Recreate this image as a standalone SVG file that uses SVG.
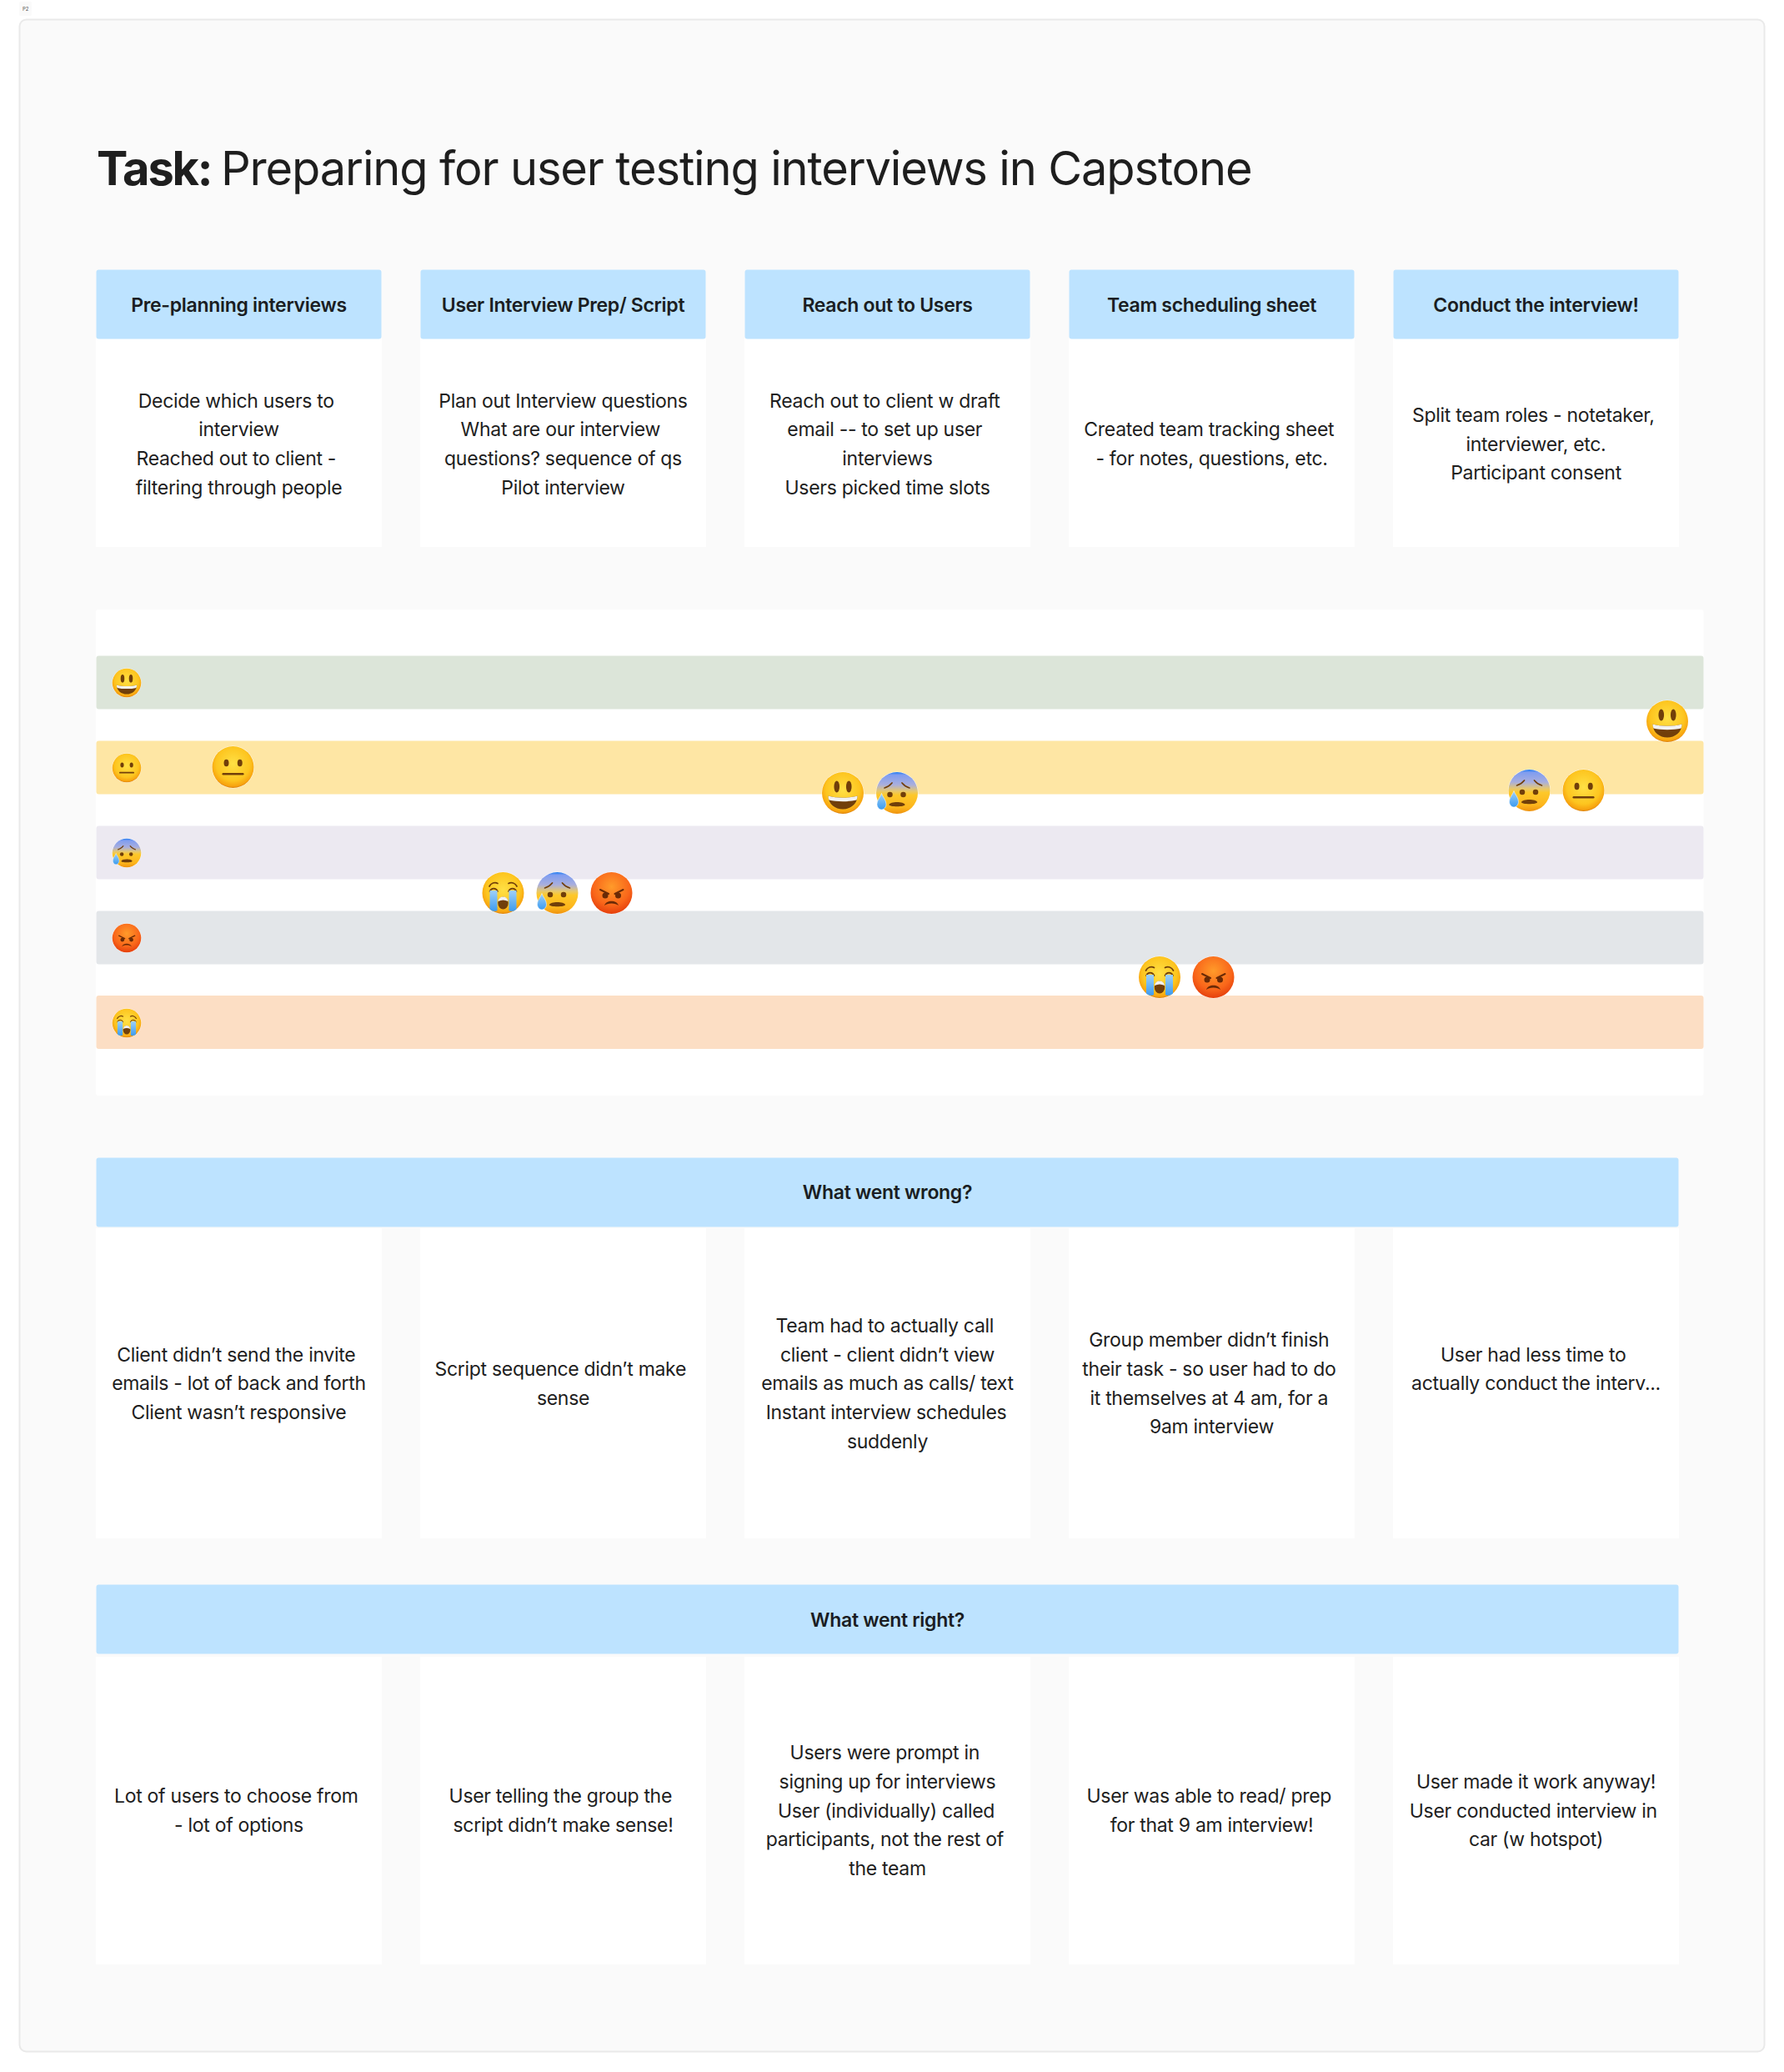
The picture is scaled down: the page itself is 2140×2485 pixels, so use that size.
<svg xmlns="http://www.w3.org/2000/svg" width="2140" height="2485" viewBox="0 0 2140 2485">
<style>
text{font-family:Inter,"Liberation Sans",sans-serif;fill:#1e1e1e}
.b{font-size:23px;letter-spacing:-.3px;text-anchor:middle}
.h{font-size:23px;letter-spacing:-.3px;font-weight:600;text-anchor:middle;fill:#1a1d22}
.hd{fill:#bde3ff}
.c{fill:#fff}
.d{fill:#713f0a}
.l{fill:none;stroke:#713f0a;stroke-width:3.4;stroke-linecap:round}
</style>
<defs>
<radialGradient id="y" cx=".5" cy=".42" r=".58"><stop offset="0" stop-color="#ffe045"/><stop offset=".7" stop-color="#fdc51f"/><stop offset=".93" stop-color="#f7a20f"/><stop offset="1" stop-color="#d9800e"/></radialGradient>
<radialGradient id="o" cx=".5" cy=".35" r=".68"><stop offset="0" stop-color="#ff9b2a"/><stop offset=".65" stop-color="#f9661a"/><stop offset="1" stop-color="#e23a0a"/></radialGradient>
<linearGradient id="f" x1="0" y1="0" x2="0" y2="1"><stop offset="0" stop-color="#1f7bf0"/><stop offset=".07" stop-color="#7f9df0"/><stop offset=".3" stop-color="#a8aede"/><stop offset=".46" stop-color="#e8c86a"/><stop offset=".55" stop-color="#fdc82a"/><stop offset=".85" stop-color="#fdb51c"/><stop offset="1" stop-color="#ee920f"/></linearGradient>
<linearGradient id="t" x1="0" y1="0" x2="0" y2="1"><stop offset="0" stop-color="#9fd0f8"/><stop offset="1" stop-color="#3c9bef"/></linearGradient>
<symbol id="smile" viewBox="-2 -2 104 104" overflow="visible">
<circle cx="50" cy="50" r="51" fill="#fff" opacity=".7"/><circle cx="50" cy="50" r="50" fill="url(#y)"/>
<ellipse class="d" cx="35.500" cy="35" rx="6.600" ry="14"/><ellipse class="d" cx="64.500" cy="35" rx="6.600" ry="14"/>
<path class="d" d="M15 57C35 63 65 63 85 57C85 77 68 89 50 89C32 89 15 77 15 57Z"/>
<path fill="#f2f2f2" d="M15 57C35 63 65 63 85 57C85 61 84.500 64 83 67C65 71.500 35 71.500 17 67C15.500 64 15 61 15 57Z"/>
</symbol>
<symbol id="neutral" viewBox="-2 -2 104 104" overflow="visible">
<circle cx="50" cy="50" r="51" fill="#fff" opacity=".7"/><circle cx="50" cy="50" r="50" fill="url(#y)"/>
<ellipse class="d" cx="34" cy="40" rx="6" ry="8.500"/><ellipse class="d" cx="66.500" cy="40" rx="6" ry="8.500"/>
<rect class="d" x="24" y="64" width="52" height="5" rx="2.500"/>
</symbol>
<symbol id="fear" viewBox="-2 -2 104 104" overflow="visible">
<circle cx="50" cy="50" r="51" fill="#fff" opacity=".7"/><circle cx="50" cy="50" r="50" fill="url(#f)"/>
<path class="l" d="M20 38C27 36 33 32 38 26M80 38C73 36 67 32 62 26"/>
<circle class="d" cx="33" cy="54" r="6.500"/><circle class="d" cx="65" cy="54" r="6.500"/>
<path class="d" d="M31 78C33 70 67 70 69 78C70 84 30 84 31 78Z"/>
<path fill="url(#t)" stroke="#fff" stroke-width="1" d="M13 51C16 60 24 67 24 77C24 84 19 90 13 90C7 90 2 84 2 77C2 67 10 60 13 51Z"/>
</symbol>
<symbol id="angry" viewBox="-2 -2 104 104" overflow="visible">
<circle cx="50" cy="50" r="51" fill="#fff" opacity=".7"/><circle cx="50" cy="50" r="50" fill="url(#o)"/>
<circle cx="35" cy="56" r="7" fill="#6a2a06"/><circle cx="66" cy="56" r="7" fill="#6a2a06"/>
<path d="M23 42L43 52M78 42L58 52" fill="none" stroke="#6a2a06" stroke-width="4" stroke-linecap="round"/>
<path d="M33 80C37 66 63 66 67 80C60 73 40 73 33 80Z" fill="#6a2a06"/>
</symbol>
<symbol id="cry" viewBox="-2 -2 104 104" overflow="visible">
<circle cx="50" cy="50" r="51" fill="#fff" opacity=".7"/><circle cx="50" cy="50" r="50" fill="url(#y)"/>
<path class="l" d="M17 34C21 26 30 23 37 27M83 34C79 26 70 23 63 27"/>
<path class="l" d="M18 46C22 37 33 37 37 46M63 46C67 37 78 37 82 46"/>
<path fill="url(#t)" d="M18 44H36V92C30 95 24 94 18 89ZM64 44H82V89C76 94 70 95 64 92Z"/>
<ellipse class="d" cx="50" cy="74" rx="12.500" ry="15"/>
<path fill="#f2f2f2" d="M38 70C39 55 61 55 62 70C54 66 46 66 38 70Z"/>
</symbol>
</defs>
<rect width="2140" height="2485" fill="#fff"/>
<g id="page-tag"><rect x="23" y="2" width="15" height="17" rx="2" fill="#fafafa"/><text x="27" y="13" style="font-size:6px;fill:#555">P2</text></g>
<g id="board"><rect x="23.500" y="23.500" width="2093" height="2437" rx="8" fill="#fafafa" stroke="#e9e9e9" stroke-width="2"/></g>
<g id="title"><text y="222" style="font-size:56px;letter-spacing:-1.15px"><tspan x="116" font-weight="700" style="letter-spacing:-2.2px">Task:</tspan> <tspan x="265">Preparing for user testing interviews in Capstone</tspan></text></g>

<g id="column-1">
<rect class="c" x="115" y="406" width="343" height="250"/><rect class="hd" x="115.500" y="323.500" width="342" height="83" rx="3"/>
<text class="h" x="286.500" y="373.500">Pre-planning interviews</text>
<text class="b" x="283.300" y="488.500">Decide which users to</text><text class="b" x="286.500" y="523.200">interview</text><text class="b" x="283.300" y="557.900">Reached out to client -</text><text class="b" x="286.500" y="592.600">filtering through people</text>
</g>
<g id="column-2">
<rect class="c" x="504" y="406" width="343" height="250"/><rect class="hd" x="504.500" y="323.500" width="342" height="83" rx="3"/>
<text class="h" x="675.500" y="373.500">User Interview Prep/ Script</text>
<text class="b" x="675.500" y="488.500">Plan out Interview questions</text><text class="b" x="672.300" y="523.200">What are our interview</text><text class="b" x="675.500" y="557.900">questions? sequence of qs</text><text class="b" x="675.500" y="592.600">Pilot interview</text>
</g>
<g id="column-3">
<rect class="c" x="893" y="406" width="343" height="250"/><rect class="hd" x="893.500" y="323.500" width="342" height="83" rx="3"/>
<text class="h" x="1064.500" y="373.500">Reach out to Users</text>
<text class="b" x="1061.300" y="488.500">Reach out to client w draft</text><text class="b" x="1061.300" y="523.200">email -- to set up user</text><text class="b" x="1064.500" y="557.900">interviews</text><text class="b" x="1064.500" y="592.600">Users picked time slots</text>
</g>
<g id="column-4">
<rect class="c" x="1282" y="406" width="343" height="250"/><rect class="hd" x="1282.500" y="323.500" width="342" height="83" rx="3"/>
<text class="h" x="1453.500" y="373.500">Team scheduling sheet</text>
<text class="b" x="1450.300" y="523.200">Created team tracking sheet</text><text class="b" x="1453.500" y="557.900">- for notes, questions, etc.</text>
</g>
<g id="column-5">
<rect class="c" x="1671" y="406" width="343" height="250"/><rect class="hd" x="1671.500" y="323.500" width="342" height="83" rx="3"/>
<text class="h" x="1842.500" y="373.500">Conduct the interview!</text>
<text class="b" x="1839.300" y="505.800">Split team roles - notetaker,</text><text class="b" x="1842.500" y="540.500">interviewer, etc.</text><text class="b" x="1842.500" y="575.200">Participant consent</text>
</g>

<g id="timeline">
<rect class="c" x="115" y="731" width="1928.500" height="583" rx="3"/>
<rect x="115.500" y="786.500" width="1928" height="64" rx="3" fill="#dce5d9"/>
<rect x="115.500" y="888.500" width="1928" height="64" rx="3" fill="#fee6a4"/>
<rect x="115.500" y="990.500" width="1928" height="64" rx="3" fill="#ece9f1"/>
<rect x="115.500" y="1092.500" width="1928" height="64" rx="3" fill="#e3e6e9"/>
<rect x="115.500" y="1194" width="1928" height="64" rx="3" fill="#fcdec4"/>
<use href="#smile" x="134" y="801" width="36" height="36"/>
<use href="#neutral" x="134" y="903" width="36" height="36"/>
<use href="#fear" x="134" y="1005" width="36" height="36"/>
<use href="#angry" x="134" y="1107" width="36" height="36"/>
<use href="#cry" x="134" y="1209" width="36" height="36"/>
<use href="#neutral" x="253.500" y="894" width="52" height="52"/>
<use href="#cry" x="577.500" y="1045" width="52" height="52"/>
<use href="#fear" x="642.500" y="1045" width="52" height="52"/>
<use href="#angry" x="707.500" y="1045" width="52" height="52"/>
<use href="#smile" x="985" y="925" width="52" height="52"/>
<use href="#fear" x="1050" y="925" width="52" height="52"/>
<use href="#cry" x="1365" y="1146" width="52" height="52"/>
<use href="#angry" x="1429.500" y="1146" width="52" height="52"/>
<use href="#fear" x="1808.500" y="922" width="52" height="52"/>
<use href="#neutral" x="1873.500" y="922" width="52" height="52"/>
<use href="#smile" x="1974" y="839" width="52" height="52"/>
</g>

<g id="wrong-header"><rect class="hd" x="115.500" y="1388.500" width="1898" height="83" rx="3"/><text class="h" x="1064.500" y="1438">What went wrong?</text></g>
<g id="wrong-1"><rect class="c" x="115" y="1473" width="343" height="372"/>
<text class="b" x="283.300" y="1632.700">Client didn’t send the invite</text><text class="b" x="286.500" y="1667.400">emails - lot of back and forth</text><text class="b" x="286.500" y="1702.100">Client wasn’t responsive</text></g>
<g id="wrong-2"><rect class="c" x="504" y="1473" width="343" height="372"/>
<text class="b" x="672.300" y="1650">Script sequence didn’t make</text><text class="b" x="675.500" y="1684.700">sense</text></g>
<g id="wrong-3"><rect class="c" x="893" y="1473" width="343" height="372"/>
<text class="b" x="1061.300" y="1598">Team had to actually call</text><text class="b" x="1064.500" y="1632.700">client - client didn’t view</text><text class="b" x="1064.500" y="1667.400">emails as much as calls/ text</text><text class="b" x="1063" y="1702.100">Instant interview schedules</text><text class="b" x="1064.500" y="1736.800">suddenly</text></g>
<g id="wrong-4"><rect class="c" x="1282" y="1473" width="343" height="372"/>
<text class="b" x="1450.300" y="1615.300">Group member didn’t finish</text><text class="b" x="1450.300" y="1650">their task - so user had to do</text><text class="b" x="1450.300" y="1684.700">it themselves at 4 am, for a</text><text class="b" x="1453.500" y="1719.400">9am interview</text></g>
<g id="wrong-5"><rect class="c" x="1671" y="1473" width="343" height="372"/>
<text class="b" x="1839.300" y="1632.700">User had less time to</text><text class="b" x="1842.500" y="1667.400">actually conduct the interv...</text></g>

<g id="right-header"><rect class="hd" x="115.500" y="1900.500" width="1898" height="83" rx="3"/><text class="h" x="1064.500" y="1950.500">What went right?</text></g>
<g id="right-1"><rect class="c" x="115" y="1987" width="343" height="369"/>
<text class="b" x="283.300" y="2162">Lot of users to choose from</text><text class="b" x="286.500" y="2196.700">- lot of options</text></g>
<g id="right-2"><rect class="c" x="504" y="1987" width="343" height="369"/>
<text class="b" x="672.300" y="2162">User telling the group the</text><text class="b" x="675.500" y="2196.700">script didn’t make sense!</text></g>
<g id="right-3"><rect class="c" x="893" y="1987" width="343" height="369"/>
<text class="b" x="1061.300" y="2110.100">Users were prompt in</text><text class="b" x="1064.500" y="2144.800">signing up for interviews</text><text class="b" x="1063" y="2179.500">User (individually) called</text><text class="b" x="1061.300" y="2214.200">participants, not the rest of</text><text class="b" x="1064.500" y="2248.900">the team</text></g>
<g id="right-4"><rect class="c" x="1282" y="1987" width="343" height="369"/>
<text class="b" x="1450.300" y="2162">User was able to read/ prep</text><text class="b" x="1453.500" y="2196.700">for that 9 am interview!</text></g>
<g id="right-5"><rect class="c" x="1671" y="1987" width="343" height="369"/>
<text class="b" x="1842.500" y="2144.800">User made it work anyway!</text><text class="b" x="1839.300" y="2179.500">User conducted interview in</text><text class="b" x="1842.500" y="2214.200">car (w hotspot)</text></g>
</svg>
